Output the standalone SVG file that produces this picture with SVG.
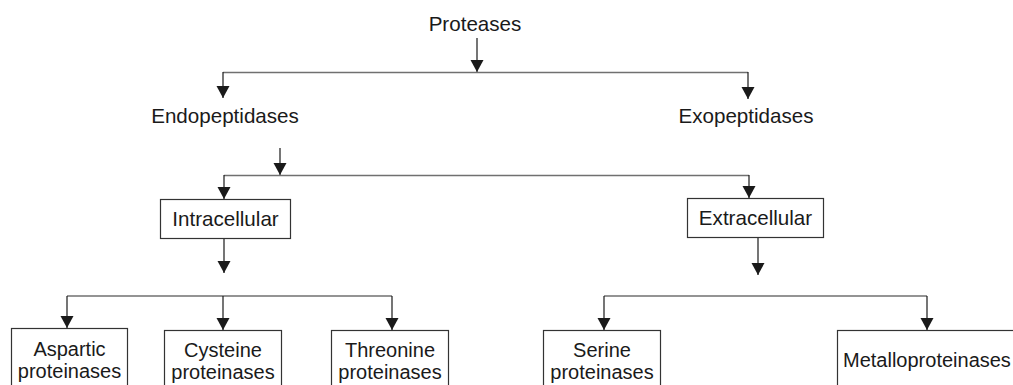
<svg xmlns="http://www.w3.org/2000/svg" width="1013" height="385" viewBox="0 0 1013 385">
  <style>
    text { font-family: "Liberation Sans", Arial, sans-serif; font-size: 20.6px; fill: #1a1a1a; text-anchor: middle; }
    text.s { font-size: 20px; }
    .box { fill: #ffffff; stroke: #333333; stroke-width: 1.2; }
    .h { fill: none; stroke: #707070; stroke-width: 1.5; }
    .v { fill: none; stroke: #1a1a1a; stroke-width: 1.2; }
  </style>
  <defs>
    <marker id="ah" markerUnits="userSpaceOnUse" markerWidth="12" markerHeight="14" refX="12" refY="7" orient="auto" viewBox="0 0 12 14">
      <path d="M0,0.5 L12,7 L0,13.5 z" fill="#1a1a1a"/>
    </marker>
  </defs>
  <rect width="1013" height="385" fill="#ffffff"/>

  <g id="connectors">
    <line class="v" x1="477" y1="38" x2="477" y2="72" marker-end="url(#ah)"/>
    <path class="h" d="M223,72.5 H748"/>
    <line class="v" x1="223" y1="72" x2="223" y2="98" marker-end="url(#ah)"/>
    <line class="v" x1="748" y1="72" x2="748" y2="99" marker-end="url(#ah)"/>

    <line class="v" x1="280" y1="148" x2="280" y2="175" marker-end="url(#ah)"/>
    <path class="h" d="M224,175.5 H749"/>
    <line class="v" x1="224" y1="175" x2="224" y2="199" marker-end="url(#ah)"/>
    <line class="v" x1="749" y1="175" x2="749" y2="198" marker-end="url(#ah)"/>

    <line class="v" x1="224" y1="238" x2="224" y2="273" marker-end="url(#ah)"/>
    <line class="v" x1="758" y1="238" x2="758" y2="275" marker-end="url(#ah)"/>

    <path class="h" d="M67,296 H392"/>
    <line class="v" x1="67" y1="296" x2="67" y2="328" marker-end="url(#ah)"/>
    <line class="v" x1="223" y1="296" x2="223" y2="330" marker-end="url(#ah)"/>
    <line class="v" x1="392" y1="296" x2="392" y2="330" marker-end="url(#ah)"/>

    <path class="h" d="M604,296 H927"/>
    <line class="v" x1="604" y1="296" x2="604" y2="330" marker-end="url(#ah)"/>
    <line class="v" x1="927" y1="296" x2="927" y2="330" marker-end="url(#ah)"/>
  </g>

  <g id="proteases"><text x="475" y="31">Proteases</text></g>
  <g id="endopeptidases"><text x="225" y="123">Endopeptidases</text></g>
  <g id="exopeptidases"><text x="746" y="123">Exopeptidases</text></g>

  <g id="intracellular">
    <rect class="box" x="160.5" y="199.5" width="130" height="39"/>
    <text x="225.5" y="226">Intracellular</text>
  </g>
  <g id="extracellular">
    <rect class="box" x="687.5" y="198.5" width="136" height="39"/>
    <text x="755.5" y="225">Extracellular</text>
  </g>

  <g id="aspartic">
    <rect class="box" x="11.5" y="328.5" width="116" height="80"/>
    <text class="s" x="69.5" y="356">Aspartic</text>
    <text class="s" x="69.5" y="378">proteinases</text>
  </g>
  <g id="cysteine">
    <rect class="box" x="164.5" y="330.5" width="117" height="80"/>
    <text class="s" x="223" y="357">Cysteine</text>
    <text class="s" x="223" y="379">proteinases</text>
  </g>
  <g id="threonine">
    <rect class="box" x="331.5" y="330.5" width="117" height="80"/>
    <text class="s" x="390" y="357">Threonine</text>
    <text class="s" x="390" y="379">proteinases</text>
  </g>
  <g id="serine">
    <rect class="box" x="543.5" y="330.5" width="117" height="80"/>
    <text class="s" x="602" y="357">Serine</text>
    <text class="s" x="602" y="379">proteinases</text>
  </g>
  <g id="metalloproteinases">
    <rect class="box" x="837.5" y="330.5" width="200" height="80"/>
    <text class="s" x="843" y="367" style="text-anchor:start">Metalloproteinases</text>
  </g>
</svg>
